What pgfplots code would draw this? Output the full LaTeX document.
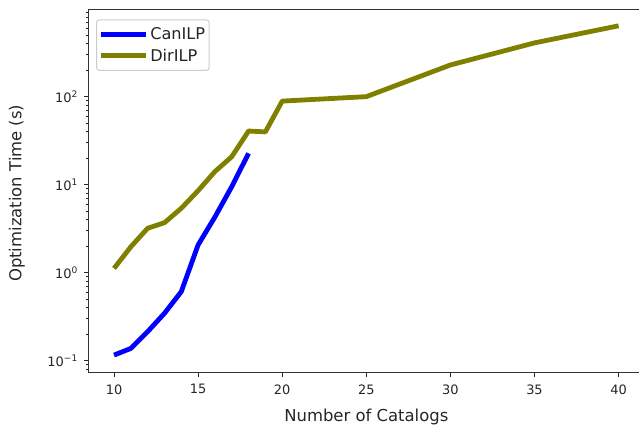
\documentclass[border=0pt]{standalone}
\usepackage{pgfplots}
\pgfplotsset{compat=1.18}
\usepackage{fontspec}
\setmainfont{DejaVu Sans}
\definecolor{canblue}{RGB}{0,0,255}
\definecolor{dirolive}{RGB}{128,128,0}
\definecolor{legframe}{RGB}{204,204,204}
\begin{document}
\begin{tikzpicture}[x=1bp,y=1bp]
\useasboundingbox (0,0) rectangle (639,-425);
\begin{axis}[
  at={(88.8bp,-372bp)}, anchor=south west,
  scale only axis, width=555bp, height=362.5bp,
  ymode=log,
  xmin=8.5, xmax=41.5, ymin=0.0745, ymax=977,
  xtick={10,15,20,25,30,35,40},
  ytick={0.1,1,10,100},
  yticklabels={10\textsuperscript{−1},10\textsuperscript{0},10\textsuperscript{1},10\textsuperscript{2}},
  minor ytick={0.08,0.09,0.2,0.3,0.4,0.5,0.6,0.7,0.8,0.9,2,3,4,5,6,7,8,9,20,30,40,50,60,70,80,90,200,300,400,500,600,700,800,900},
  tick align=outside,
  xtick pos=bottom, ytick pos=left,
  major tick length=4.5bp, minor tick length=2.5bp,
  every tick/.style={black!85, line width=1bp},
  axis line style={line width=1bp, black!80},
  /pgf/number format/assume math mode=true,
  tick label style={font=\fontsize{13}{15}\selectfont, text=black!85},
  xticklabel style={anchor=north, yshift=-4.5bp},
  yticklabel style={anchor=east, xshift=-3bp},
  xlabel={Number of Catalogs},
  ylabel={Optimization Time (s)},
  label style={font=\fontsize{16.5}{19}\selectfont, text=black!85},
  xlabel style={at={(axis description cs:0.5,0)}, anchor=base, yshift=-49bp},
  ylabel style={at={(axis description cs:0,0.5)}, anchor=base, yshift=67.3bp, xshift=-2.5bp},
  legend cell align=left,
  legend style={at={(rel axis cs:0.013,0.973)}, anchor=north west,
    draw=legframe, rounded corners=3bp, line width=1bp,
    font=\fontsize{16.2}{19}\selectfont, text=black!85,
    row sep=3.5bp, inner xsep=2bp, inner ysep=6bp},
  legend image code/.code={\draw[#1, line width=4.8bp, line cap=butt] (0bp,0bp) -- (40bp,0bp);
    \path (0bp,0bp) -- (45bp,0bp);},
]
\addplot[canblue, line width=4.8bp, line join=round] coordinates {
  (10,0.116)(11,0.138)(12,0.214)(13,0.346)(14,0.61)(15,2.07)(16,4.3)(17,9.5)(18,22.7)
};
\addlegendentry{CanILP}
\addplot[dirolive, line width=4.8bp, line join=round] coordinates {
  (10,1.12)(11,1.97)(12,3.2)(13,3.7)(14,5.4)(15,8.55)(16,14.1)(17,20.8)(18,40.7)(19,39.8)(20,89)(25,100)(30,229)(35,408)(40,638)
};
\addlegendentry{DirILP}
\end{axis}
\end{tikzpicture}
\end{document}
